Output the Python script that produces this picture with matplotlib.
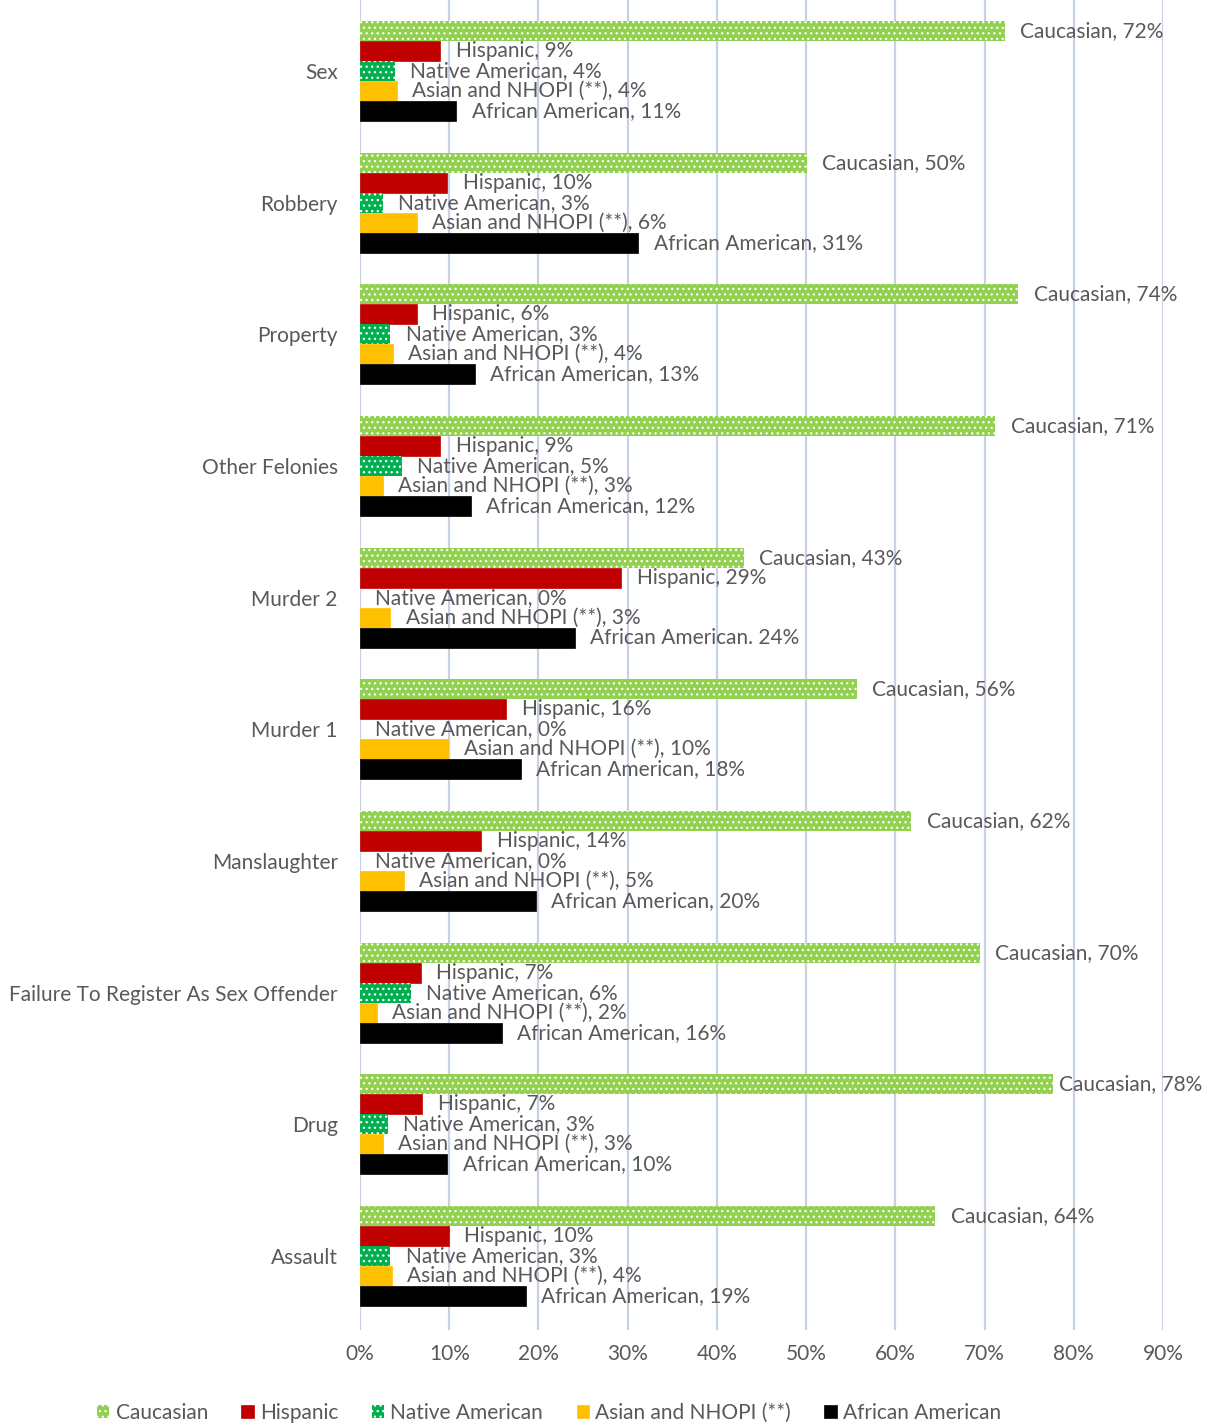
import matplotlib
matplotlib.use("Agg")
import matplotlib.pyplot as plt
import numpy as np

plt.rcParams['font.family'] = ['Lato', 'DejaVu Sans']
plt.rcParams['hatch.linewidth'] = 0.9

categories = ["Sex", "Robbery", "Property", "Other Felonies", "Murder 2", "Murder 1",
              "Manslaughter", "Failure To Register As Sex Offender", "Drug", "Assault"]
series = ["Caucasian", "Hispanic", "Native American", "Asian and NHOPI (**)", "African American"]
caucasian = [72.3, 50.1, 73.8, 71.2, 43.0, 55.7, 61.8, 69.5, 77.7, 64.5]
hispanic = [9.0, 9.8, 6.4, 9.0, 29.3, 16.4, 13.6, 6.8, 7.0, 10.0]
native_american = [3.9, 2.6, 3.4, 4.7, 0.0, 0.0, 0.0, 5.7, 3.1, 3.4]
asian_nhopi = [4.1, 6.4, 3.7, 2.6, 3.4, 9.9, 4.9, 1.9, 2.6, 3.6]
african_american = [10.8, 31.2, 12.9, 12.4, 24.1, 18.0, 19.7, 15.9, 9.8, 18.6]
values = [caucasian, hispanic, native_american, asian_nhopi, african_american]
label_names = ["Caucasian", "Hispanic", "Native American", "Asian and NHOPI (**)", "African American"]
colors = ["#92D050", "#C00000", "#00B050", "#FFC000", "#000000"]
hatches = ["...", None, "...", None, None]
xticks = [0, 10, 20, 30, 40, 50, 60, 70, 80, 90]

fig = plt.figure(figsize=(12.09, 14.26), dpi=100)
ax = fig.add_axes([360/1209, 1-1330/1426, (1163-360)/1209, 1330/1426])

n = len(categories)
centers = np.arange(n)[::-1].astype(float)  # Sex at top
h = 20/131.7
offsets = [2*h, h, 0, -h, -2*h]
text_color = "#595959"
fs = 15

for si, (name, vals) in enumerate(zip(series, values)):
    ys = centers + offsets[si]
    if hatches[si]:
        ax.barh(ys, vals, height=h, color=colors[si], edgecolor="white",
                hatch=hatches[si], linewidth=0, label=name, zorder=3)
    else:
        ax.barh(ys, vals, height=h, color=colors[si], edgecolor=colors[si],
                linewidth=0.5, label=name, zorder=3)
    for ci, (y, v) in enumerate(zip(ys, vals)):
        sep = ", "
        if name == "African American" and categories[ci] == "Murder 2":
            sep = ". "
        dx = 11 if v < 76 else 4
        ax.annotate(f"{label_names[si]}{sep}{v:.0f}%", xy=(v, y), xytext=(dx, 0),
                    textcoords="offset points", va="center", ha="left",
                    fontsize=fs, color=text_color, zorder=4)

ax.set_xlim(0, 90)
ax.set_ylim(-0.562, 9.539)
ax.set_xticks(xticks)
ax.set_xticklabels([f"{t}%" for t in xticks])
ax.set_yticks(centers)
ax.set_yticklabels(categories)
ax.tick_params(axis="x", length=0, pad=10, labelsize=fs, labelcolor=text_color)
ax.tick_params(axis="y", length=0, pad=16, labelsize=fs, labelcolor=text_color)
for s in ax.spines.values():
    s.set_visible(False)
ax.grid(axis="x", color="#C6D2E3", linewidth=1.6, zorder=0)
ax.grid(axis="y", visible=False)
ax.set_axisbelow(True)

handles, labels = ax.get_legend_handles_labels()
leg = fig.legend(handles, labels, loc="center", bbox_to_anchor=(549/1209, 1-1413/1426),
                 ncol=5, frameon=False, fontsize=fs, handlelength=0.6, handleheight=0.6,
                 handletextpad=0.3, columnspacing=1.6, labelcolor=text_color)

fig.savefig("out.png", dpi=100)
